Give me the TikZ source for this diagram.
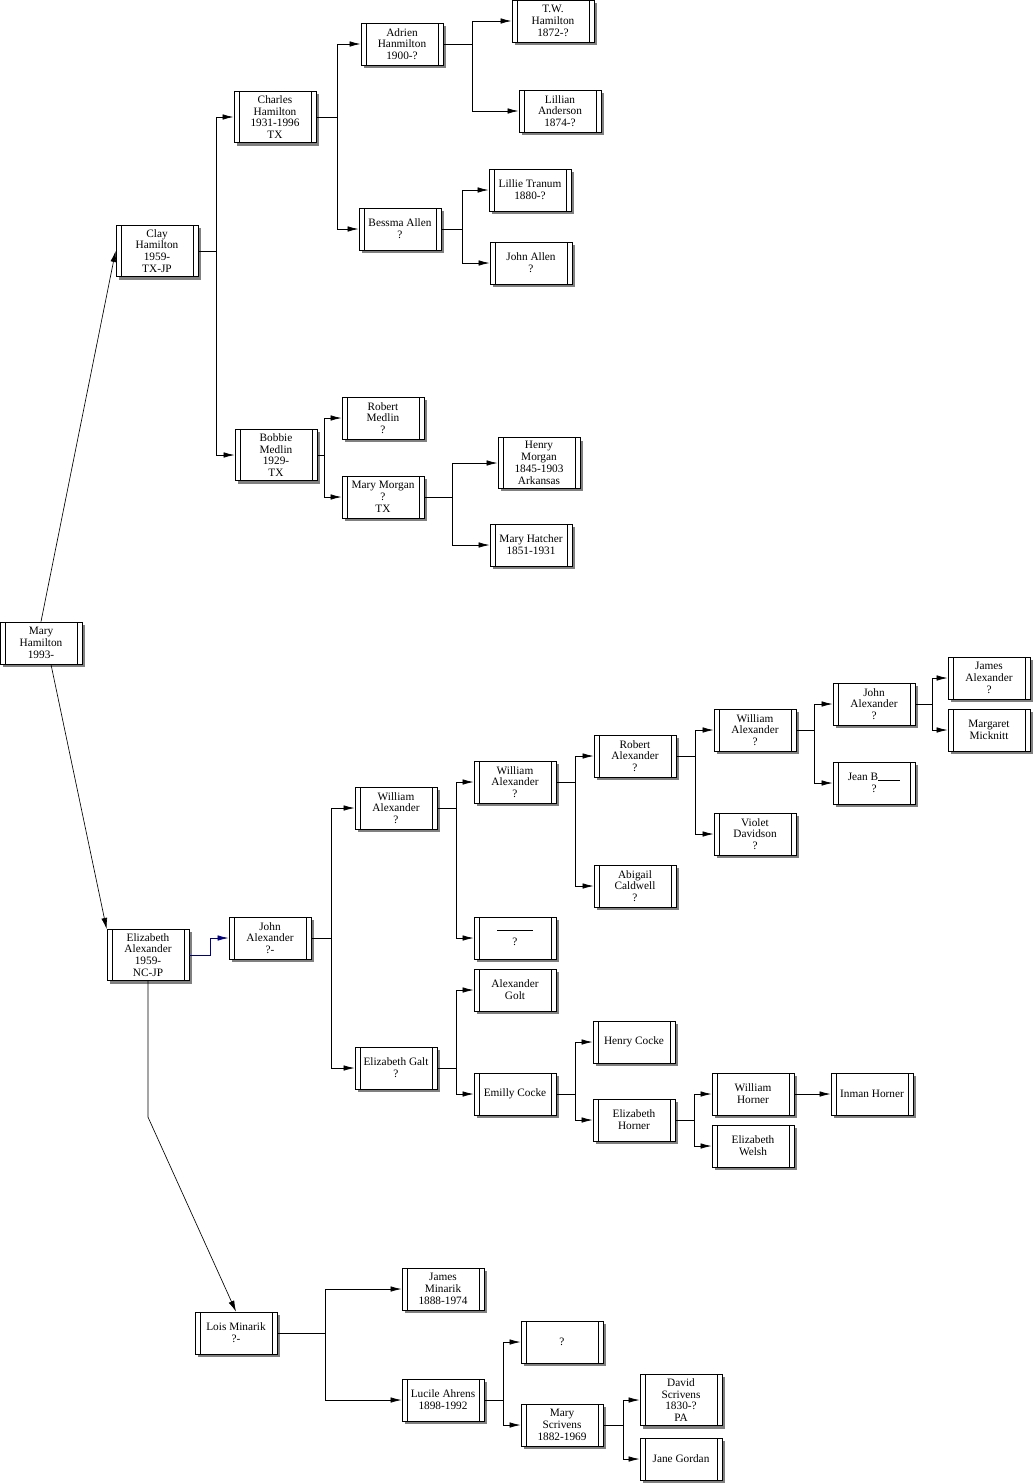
\documentclass[tikz,border=0pt]{standalone}
\usepackage{fontspec}
\setmainfont{Liberation Serif}
\usepackage{tikz}
\usetikzlibrary{arrows.meta}
\usetikzlibrary{shadows}
\definecolor{navyline}{RGB}{0,0,128}

\begin{document}
\begin{tikzpicture}[
		x=1pt, y=-1pt,
		every node/.style={font=\fontsize{11.3}{11.8}\selectfont},
		person/.style={
			rectangle,
			draw,
			fill=white,
			align=center,
			line width=0.8pt,
			minimum width=82pt,
			minimum height=42pt,
			inner xsep=2pt,
			inner ysep=4pt,
			drop shadow={shadow xshift=3pt, shadow yshift=-3pt, fill=black!50, opacity=1},
			path picture={
				\draw[line width=0.8pt] ([xshift=5pt]path picture bounding box.north west) -- ([xshift=5pt]path picture bounding box.south west);
				\draw[line width=0.8pt] ([xshift=-5pt]path picture bounding box.north east) -- ([xshift=-5pt]path picture bounding box.south east);
			}
		},
		link/.style={
			-{Latex[length=11pt,width=5.5pt]},
			line width=0.75pt
		},
		longlink/.style={
			-{Latex[length=11pt,width=6pt]},
			line width=0.65pt
		}
		]
		
		\useasboundingbox (0,0) rectangle (1035,1483);
		
		% Nodes
		\node[person] (mh) at (41,643) {Mary\\Hamilton\\1993-};
		
		\node[person] (clay) at (157,251) {Clay\\Hamilton\\1959-\\TX-JP};
		\node[person] (charles) at (275,117) {Charles\\Hamilton\\1931-1996\\TX};
		\node[person] (adrien) at (402,44) {Adrien\\Hanmilton\\1900-?};
		\node[person] (tw) at (553,21) {T.W.\\Hamilton\\1872-?};
		\node[person] (lillian) at (560,111) {Lillian\\Anderson\\1874-?};
		\node[person] (bessma) at (400,229) {Bessma Allen\\?};
		\node[person] (lillie) at (530,190) {Lillie Tranum\\1880-?};
		\node[person] (johnallen) at (531,263) {John Allen\\?};
		\node[person] (bobbie) at (276,455) {Bobbie\\Medlin\\1929-\\TX};
		\node[person] (robertm) at (383,418) {Robert\\Medlin\\?};
		\node[person] (marymorgan) at (383,497) {Mary Morgan\\?\\TX};
		\node[person] (henrym) at (539,463) {Henry\\Morgan\\1845-1903\\Arkansas};
		\node[person] (hatcher) at (531,545) {Mary Hatcher\\1851-1931};
		
		\node[person] (eliz) at (148,955) {Elizabeth\\Alexander\\1959-\\NC-JP};
		\node[person] (johna) at (270,938) {John\\Alexander\\?-};
		\node[person] (wa1) at (396,808) {William\\Alexander\\?};
		\node[person] (wa2) at (515,782) {William\\Alexander\\?};
		\node[person] (blank) at (515,938) {\rule[3pt]{36pt}{0.6pt}\\?};
		\node[person] (roberta) at (635,756) {Robert\\Alexander\\?};
		\node[person] (abigail) at (635,886) {Abigail\\Caldwell\\?};
		\node[person] (wa3) at (755,730) {William\\Alexander\\?};
		\node[person] (violet) at (755,834) {Violet\\Davidson\\?};
		\node[person] (ja2) at (874,704) {John\\Alexander\\?};
		\node[person] (jean) at (874,783) {Jean B\rule{22pt}{0.6pt}\\?};
		\node[person] (jamesa) at (989,678) {James\\Alexander\\?};
		\node[person] (margaret) at (989,730) {Margaret\\Micknitt};
		\node[person] (galt) at (396,1068) {Elizabeth Galt\\?};
		\node[person] (golt) at (515,990) {Alexander\\Golt};
		\node[person] (emilly) at (515,1094) {Emilly Cocke};
		\node[person] (henryc) at (634,1042) {Henry Cocke};
		\node[person] (ehorner) at (634,1120) {Elizabeth\\Horner};
		\node[person] (whorner) at (753,1094) {William\\Horner};
		\node[person] (welsh) at (753,1146) {Elizabeth\\Welsh};
		\node[person] (inman) at (872,1094) {Inman Horner};
		
		\node[person] (lois) at (236,1333) {Lois Minarik\\?-};
		\node[person] (jamesm) at (443,1289) {James\\Minarik\\1888-1974};
		\node[person] (lucile) at (443,1400) {Lucile Ahrens\\1898-1992};
		\node[person] (unknown) at (562,1342) {?};
		\node[person] (scrivens) at (562,1425) {Mary\\Scrivens\\1882-1969};
		\node[person] (david) at (681,1400) {David\\Scrivens\\1830-?\\PA};
		\node[person] (jane) at (681,1459) {Jane Gordan};
		
		% Arrows from Mary
		\draw[longlink] (mh.north) -- (clay.west);
		\draw[longlink] (mh.-65) -- (eliz.north west);
		
		% Hamilton side
		\draw[link] (clay.east) -- ++(18,0) |- (charles.west);
		\draw[link] (clay.east) -- ++(18,0) |- (bobbie.west);
		\draw[link] (charles.east) -- ++(21,0) |- (adrien.west);
		\draw[link] (charles.east) -- ++(21,0) |- (bessma.west);
		\draw[link] (adrien.east) -- ++(29,0) |- (tw.west);
		\draw[link] (adrien.east) -- ++(29,0) |- (lillian.west);
		\draw[link] (bessma.east) -- ++(21,0) |- (lillie.west);
		\draw[link] (bessma.east) -- ++(21,0) |- (johnallen.west);
		\draw[link] (bobbie.east) -- ++(7,0) |- (robertm.west);
		\draw[link] (bobbie.east) -- ++(7,0) |- (marymorgan.west);
		\draw[link] (marymorgan.east) -- ++(28,0) |- (henrym.west);
		\draw[link] (marymorgan.east) -- ++(28,0) |- (hatcher.west);
		
		% Alexander side
		\draw[link, navyline] (eliz.east) -- ++(21,0) |- (johna.west);
		\draw[link] (johna.east) -- ++(20,0) |- (wa1.west);
		\draw[link] (johna.east) -- ++(20,0) |- (galt.west);
		\draw[link] (wa1.east) -- ++(19,0) |- (wa2.west);
		\draw[link] (wa1.east) -- ++(19,0) |- (blank.west);
		\draw[link] (wa2.east) -- ++(19,0) |- (roberta.west);
		\draw[link] (wa2.east) -- ++(19,0) |- (abigail.west);
		\draw[link] (roberta.east) -- ++(19,0) |- (wa3.west);
		\draw[link] (roberta.east) -- ++(19,0) |- (violet.west);
		\draw[link] (wa3.east) -- ++(18,0) |- (ja2.west);
		\draw[link] (wa3.east) -- ++(18,0) |- (jean.west);
		\draw[link] (ja2.east) -- ++(17,0) |- (jamesa.west);
		\draw[link] (ja2.east) -- ++(17,0) |- (margaret.west);
		\draw[link] (galt.east) -- ++(19,0) |- (golt.west);
		\draw[link] (galt.east) -- ++(19,0) |- (emilly.west);
		\draw[link] (emilly.east) -- ++(19,0) |- (henryc.west);
		\draw[link] (emilly.east) -- ++(19,0) |- (ehorner.west);
		\draw[link] (ehorner.east) -- ++(19,0) |- (whorner.west);
		\draw[link] (ehorner.east) -- ++(19,0) |- (welsh.west);
		\draw[link] (whorner) -- (inman);
		
		% Minarik side
		\draw[longlink] (eliz.south) -- ++(0,136) -- (lois.north);
		\draw[link] (lois.east) -- ++(48,0) |- (jamesm.west);
		\draw[link] (lois.east) -- ++(48,0) |- (lucile.west);
		\draw[link] (lucile.east) -- ++(19,0) |- (unknown.west);
		\draw[link] (lucile.east) -- ++(19,0) |- (scrivens.west);
		\draw[link] (scrivens.east) -- ++(20,0) |- (david.west);
		\draw[link] (scrivens.east) -- ++(20,0) |- (jane.west);
		
	\end{tikzpicture}
\end{document}
